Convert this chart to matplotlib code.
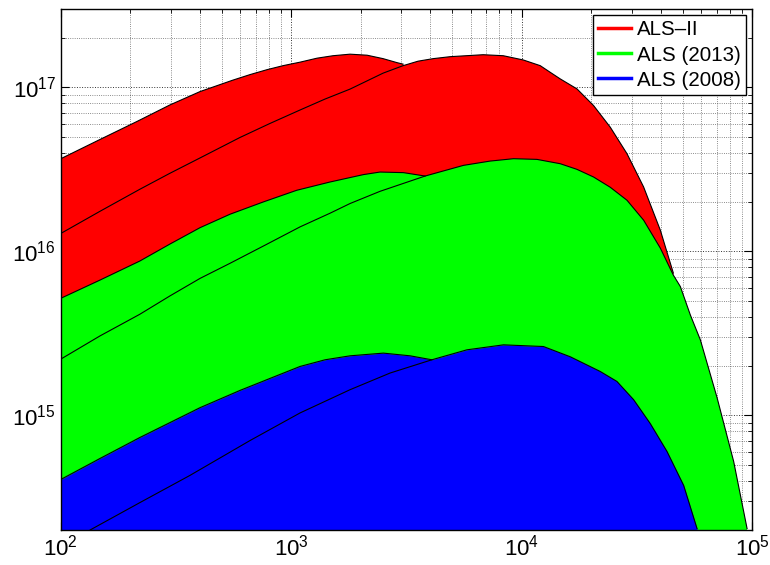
import numpy as np
import matplotlib
matplotlib.use("Agg")
import matplotlib.pyplot as plt
from matplotlib.lines import Line2D

plt.rcParams['font.family'] = ['Liberation Sans', 'DejaVu Sans']
plt.rcParams['mathtext.fontset'] = 'custom'
plt.rcParams['mathtext.rm'] = 'Liberation Sans'

# photon energy (eV) and brightness, two curves per ring
als2_lo_E = [100, 148, 214, 297, 402, 558, 662, 785, 921, 1091, 1293, 1518, 1798, 2132,
             2502, 2877, 3055]
als2_lo_B = [3.67e16, 4.81e16, 6.19e16, 7.8e16, 9.42e16, 1.106e17, 1.195e17, 1.281e17,
             1.355e17, 1.423e17, 1.505e17, 1.558e17, 1.592e17, 1.569e17, 1.495e17,
             1.413e17, 1.384e17]
als2_hi_E = [100, 148, 220, 297, 402, 599, 808, 1091, 1401, 1798, 2502, 3055, 3549, 4124,
             4888, 6799, 8306, 10140, 12020, 13285, 14680, 17350, 20480, 24200, 28600,
             33770, 39900, 45440]
als2_hi_B = [1.285e16, 1.755e16, 2.388e16, 2.988e16, 3.711e16, 4.945e16, 6.02e16, 7.27e16,
             8.48e16, 9.75e16, 1.22e17, 1.355e17, 1.443e17, 1.495e17, 1.537e17, 1.58e17,
             1.558e17, 1.468e17, 1.355e17, 1.234e17, 1.125e17, 9.78e16, 7.74e16, 5.71e16,
             3.937e16, 2.467e16, 1.346e16, 7.37e15]

als13_lo_E = [100, 148, 220, 297, 402, 542, 756, 1055, 1472, 2054, 2427, 3064, 3806]
als13_lo_B = [5.17e15, 6.68e15, 8.72e15, 1.106e16, 1.394e16, 1.683e16, 2.0e16, 2.355e16,
              2.646e16, 2.935e16, 3.043e16, 3.018e16, 2.877e16]
als13_hi_E = [100, 148, 220, 297, 402, 542, 769, 1091, 1472, 1798, 2427, 3806, 5584, 7292,
              9205, 11630, 14680, 17350, 20480, 24200, 28600, 33770, 39900, 45440, 48730,
              53860, 59520, 70340, 83030, 94930]
als13_hi_B = [2.202e15, 3.051e15, 4.13e15, 5.34e15, 6.84e15, 8.45e15, 1.09e16, 1.409e16,
              1.707e16, 1.956e16, 2.322e16, 2.877e16, 3.342e16, 3.55e16, 3.67e16, 3.635e16,
              3.42e16, 3.16e16, 2.838e16, 2.457e16, 2.048e16, 1.548e16, 1.046e16, 7.16e15,
              6.1e15, 4.09e15, 2.885e15, 1.281e15, 5.23e14, 2.04e14]

als08_lo_E = [100, 148, 220, 402, 599, 662, 850, 1091, 1401, 1798, 2509, 3277, 4071]
als08_lo_B = [4.065e14, 5.46e14, 7.32e14, 1.114e15, 1.419e15, 1.501e15, 1.727e15, 1.986e15,
              2.181e15, 2.306e15, 2.395e15, 2.306e15, 2.181e15]
als08_hi_E = [134, 220, 363, 662, 1091, 1798, 2683, 4071, 5776, 8326, 12420, 16230, 21890,
              25870, 30550, 36100, 42660, 50370, 57580]
als08_hi_B = [2.0e14, 2.934e14, 4.3e14, 7.02e14, 1.034e15, 1.433e15, 1.811e15, 2.181e15,
              2.508e15, 2.69e15, 2.627e15, 2.275e15, 1.851e15, 1.609e15, 1.246e15, 8.9e14,
              6.02e14, 3.74e14, 2.04e14]

labels = ['ALS\u2013II', 'ALS (2013)', 'ALS (2008)']
colors = ['#ff0000', '#00ff00', '#0000ff']

rings = [
    (als2_lo_E, als2_lo_B, als2_hi_E, als2_hi_B),
    (als13_lo_E, als13_lo_B, als13_hi_E, als13_hi_B),
    (als08_lo_E, als08_lo_B, als08_hi_E, als08_hi_B),
]

fig = plt.figure(figsize=(7.7, 5.65), dpi=100)
ax = fig.add_axes([0.079, 0.062, 0.898, 0.922])
ax.set_xscale('log')
ax.set_yscale('log')

floor = 1e13
for i, (loE, loB, hiE, hiB) in enumerate(rings):
    z = 1 + i
    ax.fill_between(loE, loB, floor, color=colors[i], lw=0, zorder=z)
    ax.fill_between(hiE, hiB, floor, color=colors[i], lw=0, zorder=z)
    ax.plot(loE, loB, color='k', lw=0.8, zorder=z + 0.5)
    ax.plot(hiE, hiB, color='k', lw=0.8, zorder=z + 0.5)

ax.set_xlim(1e2, 1e5)
ax.set_ylim(2e14, 3e17)

ax.set_axisbelow(True)
ax.grid(True, which='major', color='k', linestyle=':', linewidth=0.7, alpha=0.8)
ax.grid(True, which='minor', color='k', linestyle=':', linewidth=0.6, alpha=0.6)
ax.tick_params(which='both', direction='in', top=True, right=True, labelsize=16)
ax.tick_params(which='major', length=6, width=0.8)
ax.tick_params(which='minor', length=3, width=0.6)
for s in ax.spines.values():
    s.set_linewidth(1.0)
    s.set_zorder(10)

handles = [Line2D([0], [0], color=c, lw=2.5) for c in colors]
leg = ax.legend(handles, labels, loc='upper right', fontsize=14.8, fancybox=False,
                framealpha=1, edgecolor='k', handlelength=1.6, borderaxespad=0.3,
                handletextpad=0.3, labelspacing=0.3, borderpad=0.25)
leg.get_frame().set_linewidth(1.0)
leg.set_zorder(20)

fig.savefig('out.png', dpi=100)
